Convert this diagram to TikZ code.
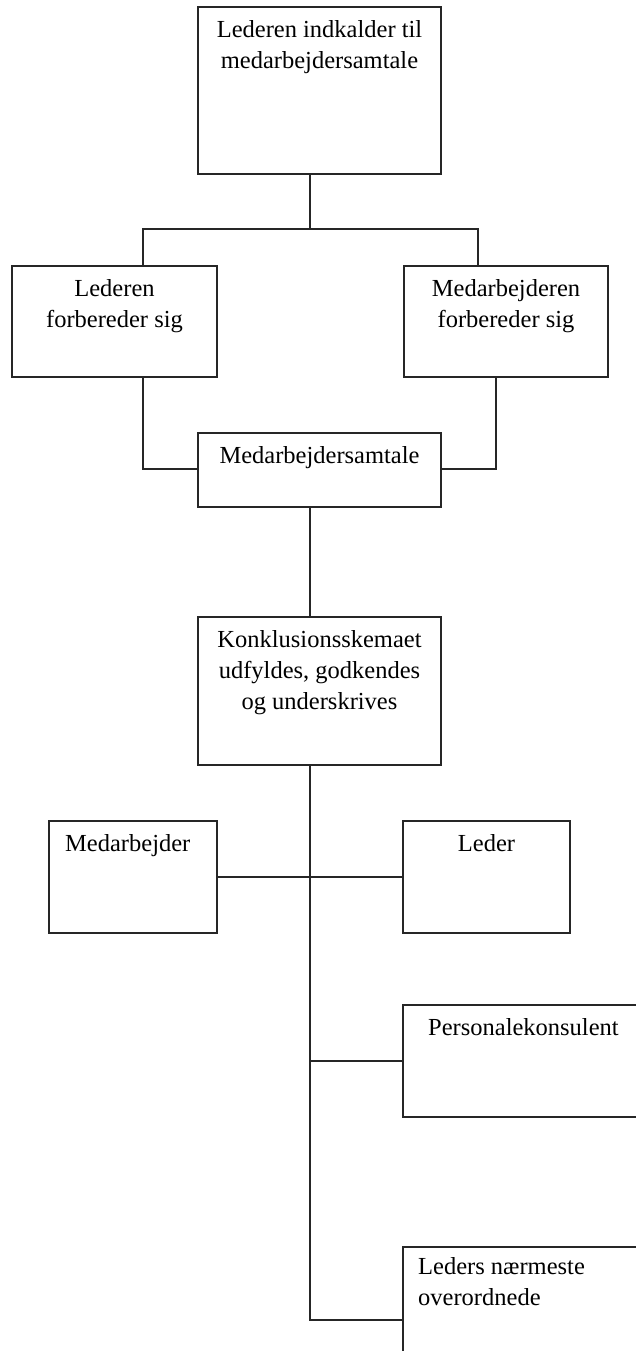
\documentclass[tikz,border=0pt]{standalone}
\usepackage{fontspec}
\setmainfont{Liberation Serif}
\usetikzlibrary{calc}
\begin{document}
\begin{tikzpicture}[x=1pt,y=-1pt,
  box/.style={draw=black!85, line width=1.3pt, rectangle, inner sep=0pt, outer sep=0pt, fill=white},
  txt/.style={inner sep=0pt, font=\fontsize{24.5}{31}\selectfont, align=center, text=black},
  txtl/.style={txt, align=left},
  wire/.style={draw=black!85, line width=1.3pt}]
\useasboundingbox (0,0) rectangle (636,1351);
\clip (0,0) rectangle (636,1351);
\fill[white] (0,0) rectangle (636,1351);

% boxes
\node[box, minimum width=243pt, minimum height=167pt] (b1) at (319.5,90.5) {};
\node[box, minimum width=205pt, minimum height=111pt] (b2) at (114.5,321.5) {};
\node[box, minimum width=204pt, minimum height=111pt] (b3) at (506,321.5) {};
\node[box, minimum width=243pt, minimum height=74pt]  (b4) at (319.5,470) {};
\node[box, minimum width=243pt, minimum height=148pt] (b5) at (319.5,691) {};
\node[box, minimum width=168pt, minimum height=112pt] (b6) at (133,877) {};
\node[box, minimum width=167pt, minimum height=112pt] (b7) at (486.5,877) {};
\node[box, minimum width=242pt, minimum height=112pt] (b8) at (524,1061) {};
\node[box, minimum width=242pt, minimum height=112pt] (b9) at (524,1303) {};

% texts
\node[txt, anchor=north] (t1) at ($(b1.north)+(0,13)$) {Lederen indkalder til\\medarbejdersamtale};
\node[txt, anchor=north] (t2) at ($(b2.north)+(0,13)$) {Lederen\\forbereder sig};
\node[txt, anchor=north] (t3) at ($(b3.north)+(0,13)$) {Medarbejderen\\forbereder sig};
\node[txt, anchor=north] (t4) at ($(b4.north)+(0,13)$) {Medarbejdersamtale};
\node[txt, anchor=north] (t5) at ($(b5.north)+(0,13)$) {Konklusionsskemaet\\udfyldes, godkendes\\og underskrives};
\node[txtl, anchor=north west] (t6) at ($(b6.north west)+(16,13)$) {Medarbejder};
\node[txt, anchor=north] (t7) at ($(b7.north)+(0,13)$) {Leder};
\node[txtl, anchor=north west] (t8) at ($(b8.north west)+(25,13)$) {Personalekonsulent};
\node[txtl, anchor=north west] (t9) at ($(b9.north west)+(15,10)$) {Leders nærmeste\\overordnede};

% junction points
\coordinate (j1) at (310,229);
\coordinate (j2) at (143,229);
\coordinate (j3) at (478,229);
\coordinate (k2) at (143,469);
\coordinate (k3) at (496,469);
\coordinate (send) at (310,1320);

% connectors
\draw[wire] (j1 |- b1.south) -- (j1);
\draw[wire] (j2 |- b2.north) -- (j2) -- (j3) -- (j3 |- b3.north);
\draw[wire] (k2 |- b2.south) -- (k2) -- (k2 -| b4.west);
\draw[wire] (k3 |- b3.south) -- (k3) -- (k3 -| b4.east);
\draw[wire] (j1 |- b4.south) -- (j1 |- b5.north);
\draw[wire] (send |- b5.south) -- (send) -- (send -| b9.west);
\draw[wire] (b6.east) -- (b7.west);
\draw[wire] (send |- b8.west) -- (b8.west);
\end{tikzpicture}
\end{document}
